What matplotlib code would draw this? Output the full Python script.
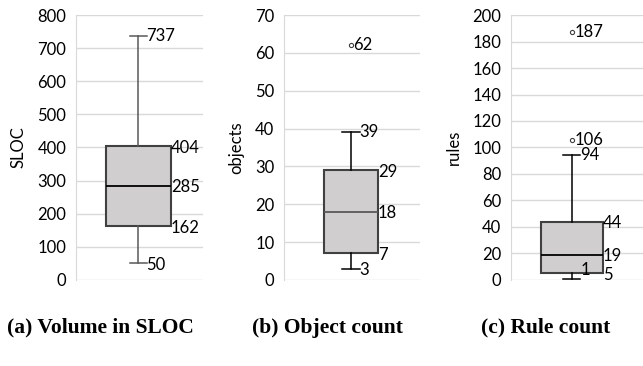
import matplotlib
matplotlib.use("Agg")
import matplotlib.pyplot as plt

# five-number summaries
sloc = dict(whislo=50, q1=162, med=285, q3=404, whishi=737, fliers=[])
objects = dict(whislo=3, q1=7, med=18, q3=29, whishi=39, fliers=[62])
rules = dict(whislo=1, q1=5, med=19, q3=44, whishi=94, fliers=[106, 187])

ylabels = ["SLOC", "objects", "rules"]
ylims = [800, 70, 200]
ysteps = [100, 10, 20]
titles = ["(a) Volume in SLOC", "(b) Object count", "(c) Rule count"]

plt.rcParams["font.family"] = ["Lato", "DejaVu Sans"]

fig = plt.figure(figsize=(6.43, 3.66), dpi=100)

# axes rectangles, box centre / width, whisker colour
panels = [
    dict(rect=[0.118, 0.235, 0.198, 0.724], pos=0.49, width=0.51, wcol="#595959", mcol="black"),
    dict(rect=[0.442, 0.235, 0.211, 0.724], pos=0.49, width=0.40, wcol="black", mcol="#595959"),
    dict(rect=[0.795, 0.235, 0.205, 0.724], pos=0.46, width=0.47, wcol="black", mcol="black"),
]

for stats, p, ylab, ymax, step, title in zip(
    [sloc, objects, rules], panels, ylabels, ylims, ysteps, titles
):
    ax = fig.add_axes(p["rect"])
    ax.set_xlim(0, 1)
    ax.set_ylim(0, ymax)
    ax.set_yticks(range(0, ymax + 1, step))
    ax.yaxis.grid(True, color="#d9d9d9", linewidth=1)
    ax.set_axisbelow(True)
    for s in ["top", "right", "bottom"]:
        ax.spines[s].set_visible(False)
    ax.spines["left"].set_color("#d9d9d9")
    ax.tick_params(axis="y", length=0, labelsize=12, pad=7)
    ax.tick_params(axis="x", bottom=False, labelbottom=False)
    ax.set_ylabel(ylab, fontsize=12, labelpad=8)

    ax.bxp(
        [stats],
        positions=[p["pos"]],
        widths=p["width"],
        patch_artist=True,
        boxprops=dict(facecolor="#d0cece", edgecolor="#404040", linewidth=1.5),
        medianprops=dict(color=p["mcol"], linewidth=1.3),
        whiskerprops=dict(color=p["wcol"], linewidth=1.1),
        capprops=dict(color=p["wcol"], linewidth=1.1),
        capwidths=0.13,
        flierprops=dict(marker="o", markersize=3, markerfacecolor="white",
                        markeredgecolor="#404040", markeredgewidth=0.8),
    )

    right = p["pos"] + p["width"] / 2
    capr = p["pos"] + 0.065
    kw = dict(fontsize=12, va="center", ha="left")
    for key in ["q1", "med", "q3"]:
        ax.annotate(str(stats[key]), (right, stats[key]), xytext=(0, -1),
                    textcoords="offset points", **kw)
    ax.annotate(str(stats["whishi"]), (capr, stats["whishi"]), xytext=(0, 0),
                textcoords="offset points", **kw)
    lo_off = 6 if stats["whislo"] == 1 else -1
    ax.annotate(str(stats["whislo"]), (capr, stats["whislo"]), xytext=(0, lo_off),
                textcoords="offset points", **kw)
    for f in stats["fliers"]:
        ax.annotate(str(f), (p["pos"], f), xytext=(2, 0),
                    textcoords="offset points", **kw)

r_centres = [100 / 643, 327 / 643, 546 / 643]
for cx, title in zip(r_centres, titles):
    fig.text(cx, 0.105, title, ha="center", va="center",
             fontsize=15.5, fontweight="bold", family="Liberation Serif")

fig.savefig("out.png", dpi=100)
